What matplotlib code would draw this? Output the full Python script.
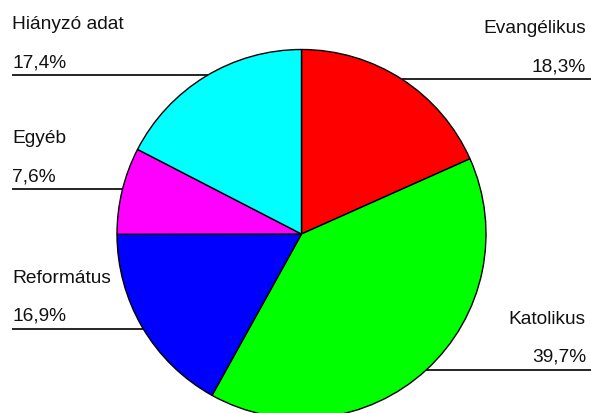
import matplotlib.pyplot as plt
import numpy as np

# Felekezeti megoszlás
labels = ['Evangélikus', 'Katolikus', 'Református', 'Egyéb', 'Hiányzó adat']
values = [18.3, 39.7, 16.9, 7.6, 17.4]
pct_labels = ['18,3%', '39,7%', '16,9%', '7,6%', '17,4%']
colors = ['#FF0000', '#00FF00', '#0000FF', '#FF00FF', '#00FFFF']

W, H = 591, 414
CX, CY, R = 301.5, H - 235, 184.5

fig = plt.figure(figsize=(W / 100, H / 100), dpi=100)
ax = fig.add_axes([0, 0, 1, 1])
ax.set_xlim(0, W)
ax.set_ylim(0, H)
ax.set_aspect('equal')
ax.axis('off')

ax.pie(values, colors=colors, startangle=90, counterclock=False,
       center=(CX, CY), radius=R,
       wedgeprops=dict(edgecolor='black', linewidth=1.0))
ax.set_xlim(0, W)
ax.set_ylim(0, H)

# label line y (from top), side
leader = {
    'Evangélikus': (80, 'right'),
    'Katolikus': (371, 'right'),
    'Református': (330, 'left'),
    'Egyéb': (190, 'left'),
    'Hiányzó adat': (76, 'left'),
}

font = dict(family=['Liberation Sans', 'DejaVu Sans'], fontsize=13.8, color='#111111')

for name, pct in zip(labels, pct_labels):
    ly, side = leader[name]
    y = H - ly
    dx = np.sqrt(max(R ** 2 - (y - CY) ** 2, 0))
    if side == 'left':
        x0, x1 = 12, CX - dx
        tx, ha = 12, 'left'
    else:
        x0, x1 = CX + dx, W
        tx, ha = 586, 'right'
    ax.plot([x0, x1], [y, y], color='black', lw=1.2, solid_capstyle='butt')
    ax.text(tx, y + 9, pct, ha=ha, va='baseline', **font)
    ax.text(tx, y + 47, name, ha=ha, va='baseline', **font)

fig.savefig('out.png', dpi=100)
